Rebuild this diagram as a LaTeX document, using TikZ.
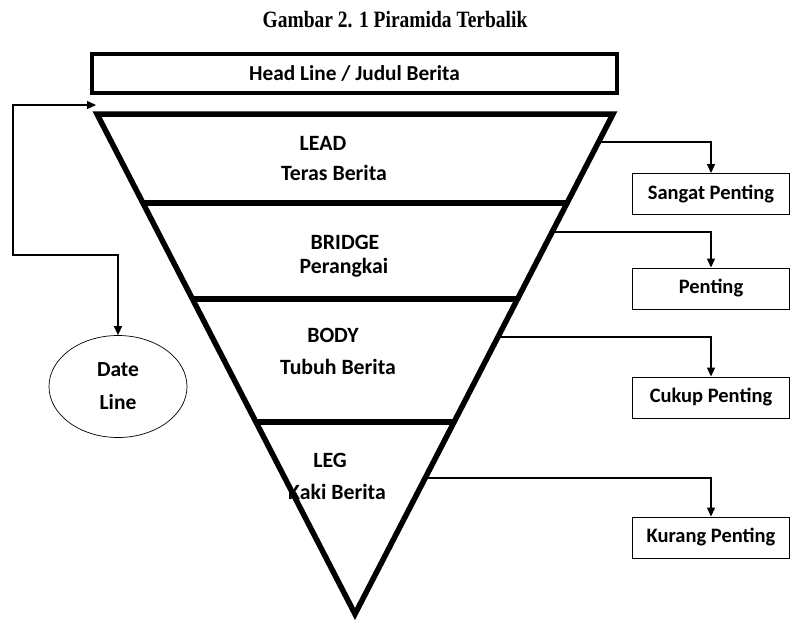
\documentclass[tikz,border=0pt]{standalone}
\usepackage{fontspec}
\setmainfont{Carlito}
\newfontfamily\titlefont{Liberation Serif}
\usetikzlibrary{calc,arrows.meta,shapes.geometric}
\begin{document}
\begin{tikzpicture}[x=1pt,y=-1pt,
  lbl/.style={font=\fontsize{21.8}{24}\selectfont\bfseries, align=center, inner sep=0pt},
  heavy/.style={line width=5.5pt},
  conn/.style={line width=1.2pt, -{Triangle[length=9pt,width=8pt]}},
  dateconn/.style={line width=1.2pt, {Triangle[length=9pt,width=8pt]}-{Triangle[length=9pt,width=8pt]}},
  impbox/.style={draw, line width=0.9pt, minimum width=157pt, minimum height=41pt, inner sep=0pt,
                 font=\fontsize{20.5}{22}\selectfont\bfseries}
]
\useasboundingbox (0,0) rectangle (792,621);

% title
\node[inner sep=0pt] (title) at (395,20) {\scalebox{1}[1.2]{\titlefont\bfseries\fontsize{19.5}{22}\selectfont Gambar 2. 1 Piramida Terbalik}};

% headline box
\node[draw, line width=4pt, minimum width=525pt, minimum height=39pt, inner sep=0pt,
      font=\fontsize{21.3}{23}\selectfont\bfseries] (hl) at (354.5,73.5) {Head Line / Judul Berita};

% inverted pyramid
\coordinate (TL) at (97,114);
\coordinate (TR) at (613,114);
\coordinate (A) at (355,614);
\draw[heavy, line join=miter] (TL) -- (TR) -- (A) -- cycle;

\coordinate (l1a) at ($(TL)!0.178!(A)$);
\coordinate (l1b) at ($(TR)!0.178!(A)$);
\coordinate (l2a) at ($(TL)!0.370!(A)$);
\coordinate (l2b) at ($(TR)!0.370!(A)$);
\coordinate (l3a) at ($(TL)!0.616!(A)$);
\coordinate (l3b) at ($(TR)!0.616!(A)$);
\draw[heavy] (l1a) -- (l1b);
\draw[heavy] (l2a) -- (l2b);
\draw[heavy] (l3a) -- (l3b);

% layer labels
\node[lbl] (lead)  at (323,143) {LEAD};
\node[lbl] (teras) at (334,173) {Teras Berita};
\node[lbl] (bridge) at (345,242) {BRIDGE};
\node[lbl] (perang) at (344,268) {Perangkai};
\node[lbl] (body)  at (333,335) {BODY};
\node[lbl] (tubuh) at (338,367) {Tubuh Berita};
\node[lbl] (leg)   at (330,460) {LEG};
\node[lbl] (kaki)  at (337,492) {Kaki Berita};

% importance boxes
\node[impbox] (b1) at (711,194) {Sangat Penting};
\node[impbox] (b2) at (711,288.5) {Penting};
\node[impbox] (b3) at (711,397.5) {Cukup Penting};
\node[impbox] (b4) at (711,537.5) {Kurang Penting};

% connectors from pyramid edge
\coordinate (e1) at ($(TR)!0.056!(A)$);
\coordinate (e2) at ($(TR)!0.236!(A)$);
\coordinate (e3) at ($(TR)!0.446!(A)$);
\coordinate (e4) at ($(TR)!0.728!(A)$);
\draw[conn] (e1) -| (b1);
\draw[conn] (e2) -| (b2);
\draw[conn] (e3) -| (b3);
\draw[conn] (e4) -| (b4);

% date line
\node[draw, ellipse, line width=0.7pt, minimum width=138pt, minimum height=102pt, inner sep=0pt,
      font=\fontsize{21.5}{33}\selectfont\bfseries, align=center] (dl) at (118,386.5) {Date\\Line};
\coordinate (dtop) at (96,105);
\coordinate (c2) at (13,255);
\draw[dateconn] (dtop) -| (c2) -| (dl);
\end{tikzpicture}
\end{document}
